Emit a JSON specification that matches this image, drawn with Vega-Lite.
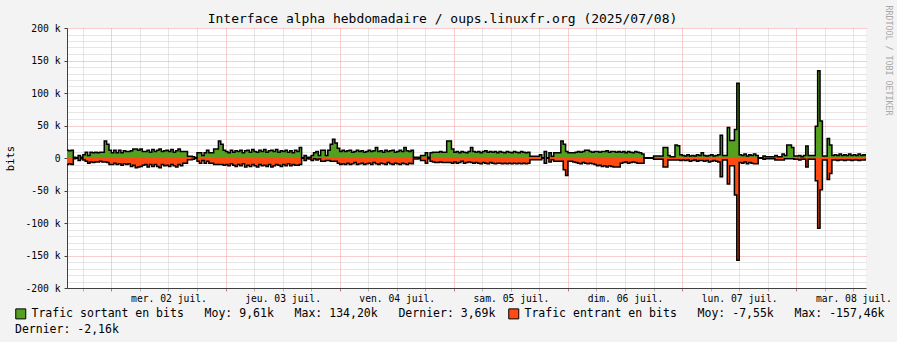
{
"$schema":"https://vega.github.io/schema/vega-lite/v6.json",
"width":799,"height":260,
"autosize":"none",
"padding":{"left":67,"top":28,"right":31,"bottom":54},
"background":"#F3F3F3",
"config":{"view":{"fill":"#FFFFFF","stroke":null},"font":"DejaVu Sans Mono"},
"title":{"text":"Interface alpha hebdomadaire / oups.linuxfr.org (2025/07/08)","font":"DejaVu Sans Mono","fontSize":13,"fontWeight":"normal","color":"#000000","anchor":"middle","dx":-24,"dy":24,"offset":3},
"data":{"values":[
{"t":"2025-07-01T14:30","o":12,"i":-10},{"t":"2025-07-01T15:00","o":11,"i":-9},{"t":"2025-07-01T15:30","o":12,"i":-10},{"t":"2025-07-01T16:00","o":1,"i":-1},{"t":"2025-07-01T16:30","o":0.5,"i":-0.5},{"t":"2025-07-01T17:00","o":4,"i":-4},{"t":"2025-07-01T17:30","o":1,"i":-1},{"t":"2025-07-01T18:00","o":5,"i":-3},{"t":"2025-07-01T18:30","o":9,"i":-5},{"t":"2025-07-01T19:00","o":4,"i":-8},{"t":"2025-07-01T19:30","o":9,"i":-6},{"t":"2025-07-01T20:00","o":8,"i":-7},{"t":"2025-07-01T20:30","o":9,"i":-6},{"t":"2025-07-01T21:00","o":8,"i":-6},{"t":"2025-07-01T21:30","o":9,"i":-5},{"t":"2025-07-01T22:00","o":9,"i":-6},{"t":"2025-07-01T22:30","o":26,"i":-6},{"t":"2025-07-01T23:00","o":21,"i":-7},{"t":"2025-07-01T23:30","o":12,"i":-10},
{"t":"2025-07-02T00:00","o":8,"i":-10},{"t":"2025-07-02T00:30","o":12,"i":-8},{"t":"2025-07-02T01:00","o":8,"i":-10},{"t":"2025-07-02T01:30","o":12,"i":-9},{"t":"2025-07-02T02:00","o":8,"i":-11},{"t":"2025-07-02T02:30","o":11,"i":-9},{"t":"2025-07-02T03:00","o":10,"i":-10},{"t":"2025-07-02T03:30","o":10,"i":-9},{"t":"2025-07-02T04:00","o":11,"i":-13},{"t":"2025-07-02T04:30","o":14,"i":-11},{"t":"2025-07-02T05:00","o":14,"i":-15},{"t":"2025-07-02T05:30","o":12,"i":-14},{"t":"2025-07-02T06:00","o":14,"i":-13},{"t":"2025-07-02T06:30","o":10,"i":-11},{"t":"2025-07-02T07:00","o":10,"i":-10},{"t":"2025-07-02T07:30","o":12,"i":-14},{"t":"2025-07-02T08:00","o":9,"i":-10},{"t":"2025-07-02T08:30","o":13,"i":-13},{"t":"2025-07-02T09:00","o":10,"i":-10},{"t":"2025-07-02T09:30","o":12,"i":-13},{"t":"2025-07-02T10:00","o":14,"i":-15},{"t":"2025-07-02T10:30","o":10,"i":-10},{"t":"2025-07-02T11:00","o":11,"i":-12},{"t":"2025-07-02T11:30","o":12,"i":-11},{"t":"2025-07-02T12:00","o":10,"i":-13},{"t":"2025-07-02T12:30","o":13,"i":-10},{"t":"2025-07-02T13:00","o":9,"i":-12},{"t":"2025-07-02T13:30","o":11,"i":-14},{"t":"2025-07-02T14:00","o":14,"i":-10},{"t":"2025-07-02T14:30","o":10,"i":-12},{"t":"2025-07-02T15:00","o":10,"i":-8},{"t":"2025-07-02T15:30","o":10,"i":-8},{"t":"2025-07-02T16:00","o":2.6,"i":-2.6},{"t":"2025-07-02T16:30","o":2.6,"i":-2.6},{"t":"2025-07-02T17:00","o":2,"i":-2},{"t":"2025-07-02T17:30","o":0.5,"i":-0.5},{"t":"2025-07-02T18:00","o":8,"i":-5},{"t":"2025-07-02T18:30","o":8,"i":-8},{"t":"2025-07-02T19:00","o":4,"i":-4},{"t":"2025-07-02T19:30","o":8,"i":-8},{"t":"2025-07-02T20:00","o":12,"i":-5},{"t":"2025-07-02T20:30","o":8,"i":-8},{"t":"2025-07-02T21:00","o":8,"i":-8},{"t":"2025-07-02T21:30","o":14,"i":-10},{"t":"2025-07-02T22:00","o":14,"i":-10},{"t":"2025-07-02T22:30","o":26,"i":-10},{"t":"2025-07-02T23:00","o":21,"i":-10},{"t":"2025-07-02T23:30","o":12,"i":-11},
{"t":"2025-07-03T00:00","o":10,"i":-10},{"t":"2025-07-03T00:30","o":8,"i":-12},{"t":"2025-07-03T01:00","o":12,"i":-9},{"t":"2025-07-03T01:30","o":9,"i":-11},{"t":"2025-07-03T02:00","o":11,"i":-13},{"t":"2025-07-03T02:30","o":10,"i":-10},{"t":"2025-07-03T03:00","o":12,"i":-12},{"t":"2025-07-03T03:30","o":8,"i":-9},{"t":"2025-07-03T04:00","o":11,"i":-14},{"t":"2025-07-03T04:30","o":12,"i":-11},{"t":"2025-07-03T05:00","o":9,"i":-13},{"t":"2025-07-03T05:30","o":13,"i":-10},{"t":"2025-07-03T06:00","o":10,"i":-12},{"t":"2025-07-03T06:30","o":9,"i":-14},{"t":"2025-07-03T07:00","o":12,"i":-10},{"t":"2025-07-03T07:30","o":10,"i":-12},{"t":"2025-07-03T08:00","o":13,"i":-11},{"t":"2025-07-03T08:30","o":9,"i":-13},{"t":"2025-07-03T09:00","o":11,"i":-10},{"t":"2025-07-03T09:30","o":12,"i":-14},{"t":"2025-07-03T10:00","o":10,"i":-12},{"t":"2025-07-03T10:30","o":13,"i":-10},{"t":"2025-07-03T11:00","o":9,"i":-11},{"t":"2025-07-03T11:30","o":11,"i":-13},{"t":"2025-07-03T12:00","o":10,"i":-10},{"t":"2025-07-03T12:30","o":12,"i":-12},{"t":"2025-07-03T13:00","o":9,"i":-9},{"t":"2025-07-03T13:30","o":11,"i":-12},{"t":"2025-07-03T14:00","o":8,"i":-10},{"t":"2025-07-03T14:30","o":12,"i":-11},{"t":"2025-07-03T15:00","o":10,"i":-11},{"t":"2025-07-03T15:30","o":16,"i":-10},{"t":"2025-07-03T16:00","o":0.5,"i":-0.5},{"t":"2025-07-03T16:30","o":4,"i":-4},{"t":"2025-07-03T17:00","o":1,"i":-1},{"t":"2025-07-03T17:30","o":1,"i":-1.5},{"t":"2025-07-03T18:00","o":4,"i":-4},{"t":"2025-07-03T18:30","o":8,"i":-1},{"t":"2025-07-03T19:00","o":10,"i":-3},{"t":"2025-07-03T19:30","o":4,"i":-1.5},{"t":"2025-07-03T20:00","o":12,"i":-5},{"t":"2025-07-03T20:30","o":12,"i":-5},{"t":"2025-07-03T21:00","o":4,"i":-4},{"t":"2025-07-03T21:30","o":12,"i":-4},{"t":"2025-07-03T22:00","o":21,"i":-5},{"t":"2025-07-03T22:30","o":29,"i":-5},{"t":"2025-07-03T23:00","o":23,"i":-5},{"t":"2025-07-03T23:30","o":15,"i":-8},
{"t":"2025-07-04T00:00","o":10,"i":-10},{"t":"2025-07-04T00:30","o":12,"i":-9},{"t":"2025-07-04T01:00","o":10,"i":-10},{"t":"2025-07-04T01:30","o":11,"i":-8},{"t":"2025-07-04T02:00","o":12,"i":-10},{"t":"2025-07-04T02:30","o":9,"i":-9},{"t":"2025-07-04T03:00","o":10,"i":-7},{"t":"2025-07-04T03:30","o":12,"i":-10},{"t":"2025-07-04T04:00","o":10,"i":-9},{"t":"2025-07-04T04:30","o":11,"i":-8},{"t":"2025-07-04T05:00","o":9,"i":-10},{"t":"2025-07-04T05:30","o":10,"i":-9},{"t":"2025-07-04T06:00","o":12,"i":-8},{"t":"2025-07-04T06:30","o":10,"i":-10},{"t":"2025-07-04T07:00","o":11,"i":-7},{"t":"2025-07-04T07:30","o":16,"i":-9},{"t":"2025-07-04T08:00","o":10,"i":-10},{"t":"2025-07-04T08:30","o":11,"i":-8},{"t":"2025-07-04T09:00","o":9,"i":-9},{"t":"2025-07-04T09:30","o":12,"i":-10},{"t":"2025-07-04T10:00","o":10,"i":-7},{"t":"2025-07-04T10:30","o":11,"i":-9},{"t":"2025-07-04T11:00","o":12,"i":-10},{"t":"2025-07-04T11:30","o":9,"i":-8},{"t":"2025-07-04T12:00","o":10,"i":-9},{"t":"2025-07-04T12:30","o":12,"i":-10},{"t":"2025-07-04T13:00","o":10,"i":-8},{"t":"2025-07-04T13:30","o":16,"i":-9},{"t":"2025-07-04T14:00","o":11,"i":-10},{"t":"2025-07-04T14:30","o":10,"i":-8},{"t":"2025-07-04T15:00","o":12,"i":-9},{"t":"2025-07-04T15:30","o":1,"i":-1.5},{"t":"2025-07-04T16:00","o":1,"i":-1.5},{"t":"2025-07-04T16:30","o":1,"i":-1},{"t":"2025-07-04T17:00","o":4,"i":-4},{"t":"2025-07-04T17:30","o":4,"i":-4},{"t":"2025-07-04T18:00","o":8,"i":-8},{"t":"2025-07-04T18:30","o":1,"i":-1},{"t":"2025-07-04T19:00","o":8,"i":-5},{"t":"2025-07-04T19:30","o":9,"i":-6},{"t":"2025-07-04T20:00","o":9,"i":-7},{"t":"2025-07-04T20:30","o":9,"i":-7},{"t":"2025-07-04T21:00","o":10,"i":-6},{"t":"2025-07-04T21:30","o":9,"i":-7},{"t":"2025-07-04T22:00","o":9,"i":-7},{"t":"2025-07-04T22:30","o":26,"i":-7},{"t":"2025-07-04T23:00","o":26,"i":-7},{"t":"2025-07-04T23:30","o":14,"i":-8},
{"t":"2025-07-05T00:00","o":9,"i":-6},{"t":"2025-07-05T00:30","o":10,"i":-8},{"t":"2025-07-05T01:00","o":8,"i":-7},{"t":"2025-07-05T01:30","o":10,"i":-5},{"t":"2025-07-05T02:00","o":9,"i":-8},{"t":"2025-07-05T02:30","o":8,"i":-7},{"t":"2025-07-05T03:00","o":10,"i":-6},{"t":"2025-07-05T03:30","o":16,"i":-7},{"t":"2025-07-05T04:00","o":10,"i":-8},{"t":"2025-07-05T04:30","o":9,"i":-7},{"t":"2025-07-05T05:00","o":10,"i":-8},{"t":"2025-07-05T05:30","o":8,"i":-9},{"t":"2025-07-05T06:00","o":10,"i":-7},{"t":"2025-07-05T06:30","o":11,"i":-8},{"t":"2025-07-05T07:00","o":9,"i":-9},{"t":"2025-07-05T07:30","o":10,"i":-7},{"t":"2025-07-05T08:00","o":9,"i":-8},{"t":"2025-07-05T08:30","o":10,"i":-9},{"t":"2025-07-05T09:00","o":8,"i":-8},{"t":"2025-07-05T09:30","o":10,"i":-8},{"t":"2025-07-05T10:00","o":9,"i":-9},{"t":"2025-07-05T10:30","o":8,"i":-8},{"t":"2025-07-05T11:00","o":10,"i":-9},{"t":"2025-07-05T11:30","o":9,"i":-8},{"t":"2025-07-05T12:00","o":8,"i":-9},{"t":"2025-07-05T12:30","o":10,"i":-8},{"t":"2025-07-05T13:00","o":9,"i":-9},{"t":"2025-07-05T13:30","o":8,"i":-8},{"t":"2025-07-05T14:00","o":10,"i":-9},{"t":"2025-07-05T14:30","o":9,"i":-8},{"t":"2025-07-05T15:00","o":8,"i":-9},{"t":"2025-07-05T15:30","o":9,"i":-8},{"t":"2025-07-05T16:00","o":2.6,"i":-2.6},{"t":"2025-07-05T16:30","o":2.6,"i":-2.6},{"t":"2025-07-05T17:00","o":2.6,"i":-2.6},{"t":"2025-07-05T17:30","o":2.6,"i":-2.6},{"t":"2025-07-05T18:00","o":5,"i":-2.6},{"t":"2025-07-05T18:30","o":0.5,"i":-0.5},{"t":"2025-07-05T19:00","o":10,"i":-8},{"t":"2025-07-05T19:30","o":0.5,"i":-0.5},{"t":"2025-07-05T20:00","o":8,"i":-6},{"t":"2025-07-05T20:30","o":2.6,"i":-2.6},{"t":"2025-07-05T21:00","o":8,"i":-5},{"t":"2025-07-05T21:30","o":8,"i":-5},{"t":"2025-07-05T22:00","o":8,"i":-5},{"t":"2025-07-05T22:30","o":26,"i":-5},{"t":"2025-07-05T23:00","o":21,"i":-18},{"t":"2025-07-05T23:30","o":10,"i":-27},
{"t":"2025-07-06T00:00","o":8,"i":-5},{"t":"2025-07-06T00:30","o":8,"i":-5},{"t":"2025-07-06T01:00","o":8,"i":-6},{"t":"2025-07-06T01:30","o":9,"i":-7},{"t":"2025-07-06T02:00","o":10,"i":-8},{"t":"2025-07-06T02:30","o":9,"i":-9},{"t":"2025-07-06T03:00","o":10,"i":-7},{"t":"2025-07-06T03:30","o":12,"i":-8},{"t":"2025-07-06T04:00","o":12,"i":-9},{"t":"2025-07-06T04:30","o":10,"i":-8},{"t":"2025-07-06T05:00","o":9,"i":-9},{"t":"2025-07-06T05:30","o":10,"i":-10},{"t":"2025-07-06T06:00","o":10,"i":-12},{"t":"2025-07-06T06:30","o":9,"i":-11},{"t":"2025-07-06T07:00","o":10,"i":-13},{"t":"2025-07-06T07:30","o":10,"i":-12},{"t":"2025-07-06T08:00","o":11,"i":-14},{"t":"2025-07-06T08:30","o":9,"i":-12},{"t":"2025-07-06T09:00","o":10,"i":-13},{"t":"2025-07-06T09:30","o":10,"i":-14},{"t":"2025-07-06T10:00","o":9,"i":-14},{"t":"2025-07-06T10:30","o":10,"i":-14},{"t":"2025-07-06T11:00","o":9,"i":-8},{"t":"2025-07-06T11:30","o":10,"i":-7},{"t":"2025-07-06T12:00","o":8,"i":-6},{"t":"2025-07-06T12:30","o":10,"i":-8},{"t":"2025-07-06T13:00","o":9,"i":-7},{"t":"2025-07-06T13:30","o":8,"i":-6},{"t":"2025-07-06T14:00","o":10,"i":-7},{"t":"2025-07-06T14:30","o":9,"i":-8},{"t":"2025-07-06T15:00","o":8,"i":-8},{"t":"2025-07-06T15:30","o":6,"i":-8},{"t":"2025-07-06T16:00","o":0.5,"i":-0.5},{"t":"2025-07-06T16:30","o":0.5,"i":-0.5},{"t":"2025-07-06T17:00","o":0.5,"i":-0.5},{"t":"2025-07-06T17:30","o":0.5,"i":-0.5},{"t":"2025-07-06T18:00","o":3,"i":-2},{"t":"2025-07-06T18:30","o":3,"i":-2},{"t":"2025-07-06T19:00","o":3,"i":-2},{"t":"2025-07-06T19:30","o":3,"i":-2},{"t":"2025-07-06T20:00","o":16,"i":-14},{"t":"2025-07-06T20:30","o":16,"i":-14},{"t":"2025-07-06T21:00","o":4,"i":-3},{"t":"2025-07-06T21:30","o":2,"i":-3},{"t":"2025-07-06T22:00","o":2,"i":-3},{"t":"2025-07-06T22:30","o":20,"i":-3},{"t":"2025-07-06T23:00","o":19,"i":-3},{"t":"2025-07-06T23:30","o":5,"i":-4},
{"t":"2025-07-07T00:00","o":4,"i":-3},{"t":"2025-07-07T00:30","o":3,"i":-4},{"t":"2025-07-07T01:00","o":5,"i":-3},{"t":"2025-07-07T01:30","o":3,"i":-5},{"t":"2025-07-07T02:00","o":4,"i":-4},{"t":"2025-07-07T02:30","o":3,"i":-3},{"t":"2025-07-07T03:00","o":5,"i":-5},{"t":"2025-07-07T03:30","o":4,"i":-4},{"t":"2025-07-07T04:00","o":8,"i":-4},{"t":"2025-07-07T04:30","o":4,"i":-5},{"t":"2025-07-07T05:00","o":3,"i":-4},{"t":"2025-07-07T05:30","o":4,"i":-6},{"t":"2025-07-07T06:00","o":5,"i":-5},{"t":"2025-07-07T06:30","o":3,"i":-4},{"t":"2025-07-07T07:00","o":4,"i":-5},{"t":"2025-07-07T07:30","o":5,"i":-6},{"t":"2025-07-07T08:00","o":35,"i":-29},{"t":"2025-07-07T08:30","o":4,"i":-3},{"t":"2025-07-07T09:00","o":4,"i":-3},{"t":"2025-07-07T09:30","o":47,"i":-40},{"t":"2025-07-07T10:00","o":27,"i":-12},{"t":"2025-07-07T10:30","o":27,"i":-12},{"t":"2025-07-07T11:00","o":44,"i":-57},{"t":"2025-07-07T11:30","o":115,"i":-157.46},{"t":"2025-07-07T12:00","o":5,"i":-7},{"t":"2025-07-07T12:30","o":4,"i":-8},{"t":"2025-07-07T13:00","o":6,"i":-6},{"t":"2025-07-07T13:30","o":3,"i":-9},{"t":"2025-07-07T14:00","o":5,"i":-7},{"t":"2025-07-07T14:30","o":4,"i":-8},{"t":"2025-07-07T15:00","o":6,"i":-9},{"t":"2025-07-07T15:30","o":4,"i":-9},{"t":"2025-07-07T16:00","o":0.5,"i":-0.5},{"t":"2025-07-07T16:30","o":0.5,"i":-0.5},{"t":"2025-07-07T17:00","o":3,"i":-2},{"t":"2025-07-07T17:30","o":2,"i":-1},{"t":"2025-07-07T18:00","o":2,"i":-1},{"t":"2025-07-07T18:30","o":2,"i":-1},{"t":"2025-07-07T19:00","o":2,"i":-1},{"t":"2025-07-07T19:30","o":4,"i":-3},{"t":"2025-07-07T20:00","o":2,"i":-3},{"t":"2025-07-07T20:30","o":2,"i":-3},{"t":"2025-07-07T21:00","o":6,"i":-3},{"t":"2025-07-07T21:30","o":4,"i":-1},{"t":"2025-07-07T22:00","o":20,"i":-1},{"t":"2025-07-07T22:30","o":20,"i":-1},{"t":"2025-07-07T23:00","o":16,"i":-1},{"t":"2025-07-07T23:30","o":3,"i":-2},
{"t":"2025-07-08T00:00","o":3,"i":-2},{"t":"2025-07-08T00:30","o":4,"i":-3},{"t":"2025-07-08T01:00","o":2,"i":-2},{"t":"2025-07-08T01:30","o":4,"i":-2},{"t":"2025-07-08T02:00","o":18.5,"i":-14},{"t":"2025-07-08T02:30","o":4,"i":-2},{"t":"2025-07-08T03:00","o":4,"i":-2},{"t":"2025-07-08T03:30","o":4,"i":-2},{"t":"2025-07-08T04:00","o":49,"i":-35},{"t":"2025-07-08T04:30","o":134.2,"i":-108},{"t":"2025-07-08T05:00","o":57,"i":-49},{"t":"2025-07-08T05:30","o":3,"i":-3},{"t":"2025-07-08T06:00","o":3,"i":-3},{"t":"2025-07-08T06:30","o":30,"i":-33},{"t":"2025-07-08T07:00","o":20,"i":-24},{"t":"2025-07-08T07:30","o":4,"i":-3},{"t":"2025-07-08T08:00","o":5,"i":-3},{"t":"2025-07-08T08:30","o":4,"i":-4},{"t":"2025-07-08T09:00","o":6,"i":-3},{"t":"2025-07-08T09:30","o":4,"i":-3},{"t":"2025-07-08T10:00","o":5,"i":-4},{"t":"2025-07-08T10:30","o":4,"i":-3},{"t":"2025-07-08T11:00","o":6,"i":-3},{"t":"2025-07-08T11:30","o":4,"i":-4},{"t":"2025-07-08T12:00","o":5,"i":-3},{"t":"2025-07-08T12:30","o":4,"i":-3},{"t":"2025-07-08T13:00","o":6,"i":-4},{"t":"2025-07-08T13:30","o":4,"i":-3},{"t":"2025-07-08T14:00","o":5,"i":-3},{"t":"2025-07-08T14:30","o":3.69,"i":-2.16},{"t":"2025-07-08T15:00","o":3.69,"i":-2.16}
]},
"transform":[{"fold":["o","i"],"as":["series","v"]}],
"encoding":{
"x":{"field":"t","type":"temporal",
"scale":{"domain":[{"year":2025,"month":7,"date":1,"hours":14,"minutes":40},{"year":2025,"month":7,"date":8,"hours":14,"minutes":40}]},
"axis":{"values":[{"year":2025,"month":7,"date":1,"hours":18},{"year":2025,"month":7,"date":2,"hours":0},{"year":2025,"month":7,"date":2,"hours":6},{"year":2025,"month":7,"date":2,"hours":12},{"year":2025,"month":7,"date":2,"hours":18},{"year":2025,"month":7,"date":3,"hours":0},{"year":2025,"month":7,"date":3,"hours":6},{"year":2025,"month":7,"date":3,"hours":12},{"year":2025,"month":7,"date":3,"hours":18},{"year":2025,"month":7,"date":4,"hours":0},{"year":2025,"month":7,"date":4,"hours":6},{"year":2025,"month":7,"date":4,"hours":12},{"year":2025,"month":7,"date":4,"hours":18},{"year":2025,"month":7,"date":5,"hours":0},{"year":2025,"month":7,"date":5,"hours":6},{"year":2025,"month":7,"date":5,"hours":12},{"year":2025,"month":7,"date":5,"hours":18},{"year":2025,"month":7,"date":6,"hours":0},{"year":2025,"month":7,"date":6,"hours":6},{"year":2025,"month":7,"date":6,"hours":12},{"year":2025,"month":7,"date":6,"hours":18},{"year":2025,"month":7,"date":7,"hours":0},{"year":2025,"month":7,"date":7,"hours":6},{"year":2025,"month":7,"date":7,"hours":12},{"year":2025,"month":7,"date":7,"hours":18},{"year":2025,"month":7,"date":8,"hours":0},{"year":2025,"month":7,"date":8,"hours":6},{"year":2025,"month":7,"date":8,"hours":12}],
"grid":true,
"gridColor":{"condition":{"test":"hours(datum.value) == 0","value":"#F09A9A"},"value":"#CDCDCD"},
"gridDash":[1,1],"gridWidth":1,"domainColor":"#404040","domainWidth":1,
"ticks":true,"tickSize":3,"tickColor":{"condition":{"test":"hours(datum.value) == 0","value":"#E07070"},"value":"#B0B0B0"},
"labelExpr":"hours(datum.value) == 12 ? ['dim.','lun.','mar.','mer.','jeu.','ven.','sam.'][day(datum.value)] + ' ' + timeFormat(datum.value, '%d') + ' juil.' : ''",
"labelFont":"DejaVu Sans Mono","labelFontSize":9.7,"labelColor":"#000000","labelPadding":2,"labelOverlap":false,"labelFlush":false,"labelAngle":0,
"title":"RRDTOOL / TOBI OETIKER","titleFont":"DejaVu Sans Mono","titleFontSize":8.3,"titleFontWeight":"normal","titleColor":"#A8A8A8","titleAngle":90,"titleAlign":"left","titleBaseline":"middle","titleX":820,"titleY":-283}},
"y":{"field":"v","type":"quantitative","stack":null,"scale":{"domain":[-200,200],"nice":false},
"axis":{"values":[-200,-190,-180,-170,-160,-150,-140,-130,-120,-110,-100,-90,-80,-70,-60,-50,-40,-30,-20,-10,0,10,20,30,40,50,60,70,80,90,100,110,120,130,140,150,160,170,180,190,200],
"grid":true,"gridColor":{"condition":{"test":"datum.value % 50 == 0","value":"#F09A9A"},"value":"#CDCDCD"},"gridDash":[1,1],"gridWidth":1,
"domainColor":"#404040","domainWidth":1,"ticks":true,"tickSize":3,
"tickColor":{"condition":{"test":"datum.value % 50 == 0","value":"#404040"},"value":"transparent"},
"labelExpr":"datum.value % 50 != 0 ? '' : (datum.value == 0 ? '0' : datum.value + ' k')",
"labelFont":"DejaVu Sans Mono","labelFontSize":9.7,"labelColor":"#000000","labelPadding":4,"labelOverlap":false,"labelFlush":false,
"title":"bits","titleFont":"DejaVu Sans Mono","titleFontSize":10.5,"titleFontWeight":"normal","titleColor":"#000000","titleX":-57,"titleY":130,"titleAngle":-90,"titleAlign":"center","titleBaseline":"middle"}}
},
"layer":[
{"mark":{"type":"area","interpolate":"step-after","clip":true},
"encoding":{
"color":{"field":"series","type":"nominal","scale":{"domain":["o","i"],"range":["#55A01E","#FF4A12"]},
"legend":{"orient":"none","legendX":-52,"legendY":280,"direction":"horizontal","padding":0,
"title":"Dernier: -2,16k","titleOrient":"bottom","titleAnchor":"start","titleFont":"DejaVu Sans Mono","titleFontSize":11.5,"titleFontWeight":"normal","titleColor":"#000000","titlePadding":3,"titleLimit":600,
"labelFont":"DejaVu Sans Mono","labelFontSize":11.5,"labelColor":"#000000","labelLimit":700,"labelOffset":5,
"symbolType":"square","symbolSize":100,"symbolStrokeColor":"#000000","symbolStrokeWidth":1,"symbolOpacity":1,"columnPadding":10,
"labelExpr":"datum.value == 'o' ? 'Trafic sortant en bits\u00a0\u00a0\u00a0Moy: 9,61k\u00a0\u00a0\u00a0Max: 134,20k\u00a0\u00a0\u00a0Dernier: 3,69k' : 'Trafic entrant en bits\u00a0\u00a0\u00a0Moy: -7,55k\u00a0\u00a0\u00a0Max: -157,46k'"}}
}},
{"mark":{"type":"line","interpolate":"step-after","clip":true,"color":"#000000","strokeWidth":1.5},
"encoding":{"detail":{"field":"series"}}}
]
}
